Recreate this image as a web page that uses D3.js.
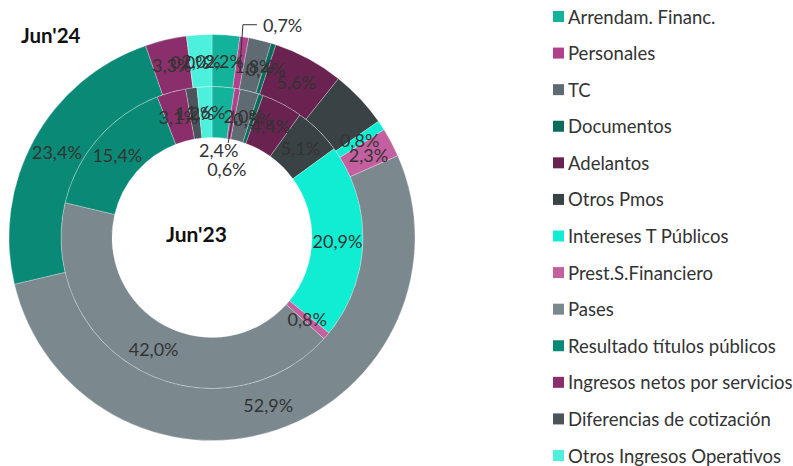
<!DOCTYPE html>
<html>
<head>
<meta charset="utf-8">
<script src="https://cdn.jsdelivr.net/npm/d3@7"></script>
<style>
  body { margin: 0; background: #fff; }
  svg { display: block; font-family: Lato, "Open Sans", sans-serif; }
</style>
</head>
<body>
<div id="chart"></div>
<script>
// Categories in drawing order (clockwise from 12 o'clock)
const categories = [
  "Arrendam. Financ.", "Personales", "TC", "Documentos", "Adelantos", "Otros Pmos",
  "Intereses T Públicos", "Prest.S.Financiero", "Pases", "Resultado títulos públicos",
  "Ingresos netos por servicios", "Diferencias de cotización", "Otros Ingresos Operativos"
];
const colors = [
  "#13b39b", "#b0428b", "#5f6b73", "#0b6b5d", "#6a2250", "#394245",
  "#10edd2", "#c45fa0", "#7b898f", "#0a8a76", "#8a2f6b", "#4b545a", "#4cf0dc"
];
// share (%) per period
const jun23 = [2.4, 0.6, 2.0, 0.5, 4.4, 5.1, 20.9, 0.8, 42.0, 15.4, 3.1, 1.2, 1.6];
const jun24 = [2.2, 0.7, 1.8, 0.4, 5.6, 4.6, 0.8, 2.3, 52.9, 23.4, 3.3, 0.0, 2.0];

const width = 793, height = 466;
const cx = 212, cy = 237.5;
const rHole = 100, rMid = 151, rOut = 203;

const svg = d3.select("#chart").append("svg")
    .attr("width", width)
    .attr("height", height);

const g = svg.append("g").attr("transform", `translate(${cx},${cy})`);

const pie = d3.pie().sort(null).value(d => d.v);
const fmt = v => d3.format(".1f")(v).replace(".", ",") + "%";
const color = d3.scaleOrdinal().domain(categories).range(colors);

const inner = pie(categories.map((c, i) => ({c, v: jun23[i]})));
const outer = pie(categories.map((c, i) => ({c, v: jun24[i]})));

const arcIn = d3.arc().innerRadius(rHole).outerRadius(rMid);
const arcOut = d3.arc().innerRadius(rMid).outerRadius(rOut);

// polar helper, angle measured clockwise from top
const polar = (a, r) => [r * Math.sin(a), -r * Math.cos(a)];
const mid = d => (d.startAngle + d.endAngle) / 2;

[[inner, arcIn], [outer, arcOut]].forEach(([data, arc]) => {
  g.append("g").selectAll("path")
    .data(data)
    .enter().append("path")
    .attr("d", arc)
    .attr("fill", d => color(d.data.c))
    .attr("stroke", "#ffffff")
    .attr("stroke-opacity", 0.45)
    .attr("stroke-width", 0.6);
});

const labelStyle = sel => sel
    .attr("font-size", 18)
    .attr("fill", "#333333")
    .attr("dominant-baseline", "central");

// leader lines
const lines = g.append("g").attr("stroke", "#333").attr("stroke-width", 1).attr("fill", "none");

// inner ring labels (the two thinnest first slices sit in the hole)
inner.forEach(d => {
  let p = arcIn.centroid(d);
  if (d.data.c === "Arrendam. Financ.") p = polar(mid(d), 88);
  if (d.data.c === "Personales") {
    const a = polar(mid(d), 129), b = polar(mid(d), 96);
    lines.append("path").attr("d", d3.line()([a, b]));
    p = polar(mid(d), 70);
    p[0] += 3;
  }
  g.append("text").call(labelStyle)
    .attr("x", p[0]).attr("y", p[1])
    .attr("text-anchor", "middle")
    .text(fmt(d.data.v));
});

// outer ring labels
outer.forEach(d => {
  if (d.data.c === "Otros Pmos") return; // no label drawn in the source
  if (d.data.c === "Personales") {
    const a = arcOut.centroid(d);
    const b = polar(mid(d) - 0.016, 215);
    const c = [b[0] + 14, b[1]];
    lines.append("path").attr("d", d3.line()([a, b, c]));
    g.append("text").call(labelStyle)
      .attr("x", c[0] + 6).attr("y", c[1])
      .attr("text-anchor", "start")
      .text(fmt(d.data.v));
    return;
  }
  const p = arcOut.centroid(d);
  g.append("text").call(labelStyle)
    .attr("x", p[0]).attr("y", p[1])
    .attr("text-anchor", "middle")
    .text(fmt(d.data.v));
});

// ring titles
svg.append("text")
    .attr("x", 21).attr("y", 43)
    .attr("font-size", 20.5).attr("font-weight", "bold").attr("fill", "#111")
    .text("Jun'24");
svg.append("text")
    .attr("x", 166).attr("y", 242)
    .attr("font-size", 21).attr("font-weight", "bold").attr("fill", "#111")
    .text("Jun'23");

// legend
const ly = d3.scalePoint().domain(categories).range([16.5, 455.5]);
const legend = svg.append("g").selectAll("g")
    .data(categories)
    .enter().append("g")
    .attr("transform", d => `translate(553,${ly(d)})`);
legend.append("rect")
    .attr("x", 0).attr("y", -5.5)
    .attr("width", 11).attr("height", 11)
    .attr("fill", d => color(d));
legend.append("text")
    .attr("x", 15).attr("y", 0)
    .attr("dominant-baseline", "central")
    .attr("font-size", 18.5)
    .attr("fill", "#333333")
    .text(d => d);
</script>
</body>
</html>
